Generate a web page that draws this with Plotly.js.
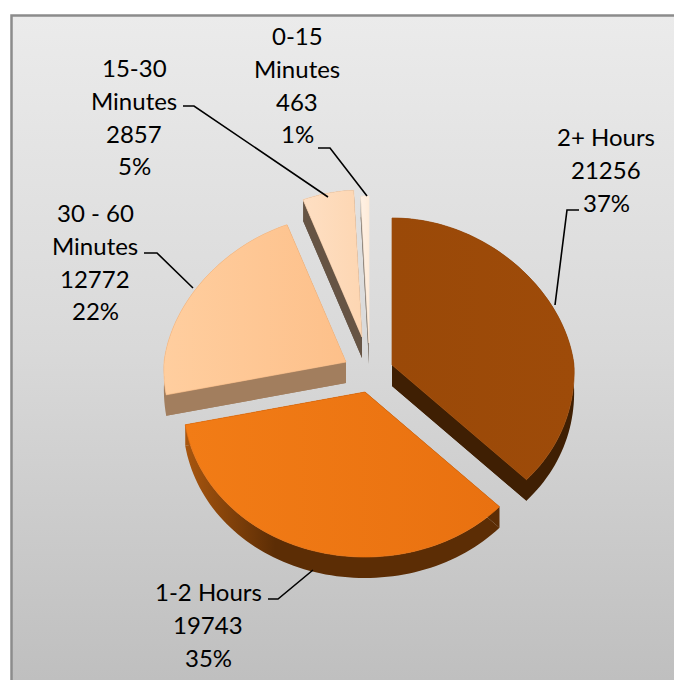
<!DOCTYPE html>
<html><head><meta charset="utf-8">
<script src="https://cdn.plot.ly/plotly-3.0.1.min.js"></script>
<style>html,body{margin:0;padding:0;background:#fff;overflow:hidden}#c{width:674px;height:680px}</style>
</head><body><div id="c"></div>
<script>
var categories = ["2+ Hours","1-2 Hours","30 - 60 Minutes","15-30 Minutes","0-15 Minutes"];
var values = [21256,19743,12772,2857,463];
var percents = ["37%","35%","22%","5%","1%"];
var labelLines = [["2+ Hours"],["1-2 Hours"],["30 - 60","Minutes"],["15-30","Minutes"],["0-15","Minutes"]];

var faceColors = [["#9A4908","#9E4B09"],["#F27C16","#E97110"],["#FFCE9F","#FDC08A"],["#FEDFC3","#FDD6B2"],["#FFF1E4","#FEEBD9"]];
var wallColors = [["#3F1F03","#3F1F03"],["#A8560F","#5C2D05"],["#A27E5E","#A27E5E"],["#665444","#665444"],["#8A8076","#8A8076"]];
var wallFade = [1,90,1,1,1];
var apexX = [392,365,346,362,369];
var apexY = [365,392,362,337,343];
var labelX = [606,208,95,134,297];
var labelTop = [136.5,591.5,212.5,67.5,35.5];
var leaders = [[[579,567,555],[210,210,305]],[[268,278,313],[599,599,570]],[[144,157,193],[253,253,288]],[[183,194,328],[106,106,197]],[[318,330,367],[148,148,196]]];

var RX=182, RY_BACK=147, RY_FRONT=165, DEPTH=21, LINE_H=32.8;
var total = values.reduce(function(a,b){return a+b;},0);

function rim(i,th){
  var c=Math.cos(th), s=Math.sin(th);
  var kx = c>0 ? 1-0.1*c : 1-0.04*c;
  var ry = c>0 ? RY_BACK : RY_FRONT;
  return [apexX[i]+RX*kx*s, apexY[i]-ry*c];
}
function sideWall(p,q,col){
  return {type:"scatter",mode:"lines",x:[p[0],q[0],q[0],p[0],p[0]],y:[p[1],q[1],q[1]+DEPTH,p[1]+DEPTH,p[1]],fill:"toself",
    fillcolor:col,line:{width:0},hoverinfo:"skip",showlegend:false};
}
var traces=[];
traces.push({type:"scatter",mode:"lines",x:[12,674,674,12,12],y:[16,16,680,680,16],fill:"toself",line:{width:0},
  fillgradient:{type:"vertical",start:16,stop:680,colorscale:[[0,"#EBEBEB"],[0.5,"#D9D9D9"],[1,"#BFBFBF"]]},hoverinfo:"skip",showlegend:false});

var cum=0;
var annotations=[];
values.forEach(function(v,i){
  var a0=cum/total*2*Math.PI; cum+=v; var a1=cum/total*2*Math.PI;
  var n=Math.max(3,Math.ceil((a1-a0)/0.03));
  var pts=[[apexX[i],apexY[i]]];
  for(var k=0;k<=n;k++){ pts.push(rim(i,a0+(a1-a0)*k/n)); }
  pts.push([apexX[i],apexY[i]]);
  var xs=pts.map(function(p){return p[0];}), ys=pts.map(function(p){return p[1];});
  var minX=Math.min.apply(null,xs);
  traces.push(sideWall(pts[0],pts[1],wallColors[i][1]));
  traces.push(sideWall(pts[pts.length-2],pts[0],wallColors[i][0]));
  // band between the face outline and its downward copy traversed backwards
  var wx=xs.concat(xs.slice().reverse());
  var wy=ys.concat(ys.map(function(y){return y+DEPTH;}).reverse());
  traces.push({type:"scatter",mode:"lines",x:wx,y:wy,fill:"toself",line:{width:0,simplify:false},
    fillgradient:{type:"horizontal",start:minX,stop:minX+wallFade[i],colorscale:[[0,wallColors[i][0]],[1,wallColors[i][1]]]},
    hoverinfo:"skip",showlegend:false});
  traces.push({type:"scatter",mode:"lines",x:xs,y:ys,fill:"toself",
    line:{width:0.7,color:faceColors[i][1],simplify:false},fillgradient:{type:"horizontal",colorscale:[[0,faceColors[i][0]],[1,faceColors[i][1]]]},
    name:categories[i],text:categories[i]+": "+v+" ("+percents[i]+")",hoverinfo:"text",showlegend:false});
  traces.push({type:"scatter",mode:"lines",x:leaders[i][0],y:leaders[i][1],line:{color:"#000",width:1.6},hoverinfo:"skip",showlegend:false});
  var lines=labelLines[i].concat([String(v),percents[i]]);
  lines.forEach(function(t,j){
    annotations.push({x:labelX[i],y:labelTop[i]+j*LINE_H,xref:"x",yref:"y",text:t,showarrow:false,xanchor:"center",yanchor:"middle",
      font:{family:"Lato, 'Open Sans', sans-serif",size:24,color:"#000"}});
  });
});
var layout={width:674,height:680,margin:{l:0,r:0,t:0,b:0},paper_bgcolor:"#fff",plot_bgcolor:"rgba(0,0,0,0)",
  xaxis:{range:[0,674],visible:false,fixedrange:true},yaxis:{range:[680,0],visible:false,fixedrange:true},
  showlegend:false,annotations:annotations,
  shapes:[{type:"rect",xref:"x",yref:"y",x0:11.5,x1:700,y0:15.5,y1:700,line:{color:"#8C8C8C",width:2.5},fillcolor:"rgba(0,0,0,0)"}]};
Plotly.newPlot("c",traces,layout,{displayModeBar:false,staticPlot:true});
</script></body></html>
